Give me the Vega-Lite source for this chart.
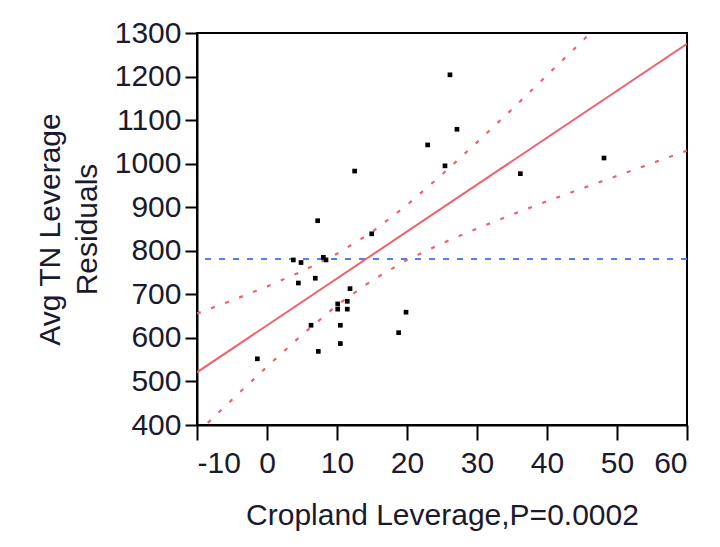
{
  "$schema": "https://vega.github.io/schema/vega-lite/v6.json",
  "autosize": {"type": "none"},
  "width": 490,
  "height": 392,
  "padding": {"left": 197, "top": 33, "right": 33, "bottom": 122},
  "background": "white",
  "config": {
    "view": {"stroke": "black", "strokeWidth": 2},
    "font": "Liberation Sans",
    "axis": {
      "grid": false,
      "domainColor": "black",
      "domainWidth": 2,
      "tickColor": "black",
      "tickWidth": 2,
      "labelFont": "Liberation Sans",
      "labelFontSize": 30,
      "labelColor": "#1a1a2e",
      "titleFont": "Liberation Sans",
      "titleFontSize": 30,
      "titleFontWeight": "normal",
      "titleColor": "#1a1a2e"
    }
  },
  "datasets": {
    "points": [
      {"x": 7.24, "y": 869},
      {"x": 14.96, "y": 839},
      {"x": 3.76, "y": 779},
      {"x": 4.86, "y": 773},
      {"x": 8.05, "y": 785},
      {"x": 8.43, "y": 779},
      {"x": 6.9, "y": 737},
      {"x": 4.48, "y": 726},
      {"x": 11.86, "y": 713},
      {"x": 10.1, "y": 678},
      {"x": 10.1, "y": 666},
      {"x": 11.47, "y": 684},
      {"x": 11.47, "y": 666},
      {"x": 19.86, "y": 659},
      {"x": 6.29, "y": 629},
      {"x": 10.48, "y": 629},
      {"x": 18.81, "y": 612},
      {"x": 10.48, "y": 587},
      {"x": 7.33, "y": 569},
      {"x": -1.38, "y": 552},
      {"x": 26.14, "y": 1204},
      {"x": 27.14, "y": 1079},
      {"x": 22.95, "y": 1043},
      {"x": 12.52, "y": 983},
      {"x": 25.43, "y": 995},
      {"x": 36.19, "y": 977},
      {"x": 48.14, "y": 1013}
    ],
    "fit": [
      {"x": -10, "y": 521},
      {"x": 60, "y": 1275}
    ],
    "bands": [
      {"x": -10, "upper": 656, "lower": 381},
      {"x": -8, "upper": 668, "lower": 412},
      {"x": -5, "upper": 686, "lower": 458},
      {"x": 0, "upper": 718, "lower": 534},
      {"x": 5, "upper": 753, "lower": 607},
      {"x": 10, "upper": 793, "lower": 675},
      {"x": 15, "upper": 843, "lower": 732},
      {"x": 20, "upper": 905, "lower": 779},
      {"x": 25, "upper": 975, "lower": 817},
      {"x": 30, "upper": 1049, "lower": 851},
      {"x": 35, "upper": 1125, "lower": 883},
      {"x": 40, "upper": 1203, "lower": 914},
      {"x": 45, "upper": 1281, "lower": 943},
      {"x": 50, "upper": 1360, "lower": 972},
      {"x": 55, "upper": 1439, "lower": 1001},
      {"x": 60, "upper": 1519, "lower": 1030}
    ],
    "mean": [{"y": 781}]
  },
  "layer": [
    {
      "data": {"name": "mean"},
      "mark": {"type": "rule", "color": "#4f7ff5", "strokeWidth": 2, "strokeDash": [6, 8]},
      "encoding": {
        "y": {"field": "y", "type": "quantitative", "scale": {"domain": [400, 1300], "nice": false, "zero": false}}
      }
    },
    {
      "data": {"name": "bands"},
      "mark": {"type": "line", "color": "#f0606e", "strokeWidth": 2.2, "strokeDash": [4, 11], "clip": true},
      "encoding": {
        "x": {"field": "x", "type": "quantitative"},
        "y": {"field": "upper", "type": "quantitative"}
      }
    },
    {
      "data": {"name": "bands"},
      "mark": {"type": "line", "color": "#f0606e", "strokeWidth": 2.2, "strokeDash": [4, 11], "clip": true},
      "encoding": {
        "x": {"field": "x", "type": "quantitative"},
        "y": {"field": "lower", "type": "quantitative"}
      }
    },
    {
      "data": {"name": "fit"},
      "mark": {"type": "line", "color": "#f0606e", "strokeWidth": 2, "clip": true},
      "encoding": {
        "x": {"field": "x", "type": "quantitative"},
        "y": {"field": "y", "type": "quantitative"}
      }
    },
    {
      "data": {"name": "points"},
      "mark": {"type": "point", "shape": "square", "filled": true, "color": "black", "size": 22, "opacity": 1},
      "encoding": {
        "x": {
          "field": "x", "type": "quantitative",
          "scale": {"domain": [-10, 60], "nice": false, "zero": false},
          "axis": {"values": [-10, 0, 10, 20, 30, 40, 50, 60], "labelExpr": "'' + datum.value", "tickSize": 15, "labelPadding": 8, "title": "Cropland Leverage,P=0.0002", "titlePadding": 22}
        },
        "y": {
          "field": "y", "type": "quantitative",
          "scale": {"domain": [400, 1300], "nice": false, "zero": false},
          "axis": {"values": [400, 500, 600, 700, 800, 900, 1000, 1100, 1200, 1300], "labelExpr": "'' + datum.value", "tickSize": 12, "labelPadding": 4, "title": ["Avg TN Leverage", "Residuals"], "titleLineHeight": 37, "titlePadding": 12}
        }
      }
    }
  ]
}
